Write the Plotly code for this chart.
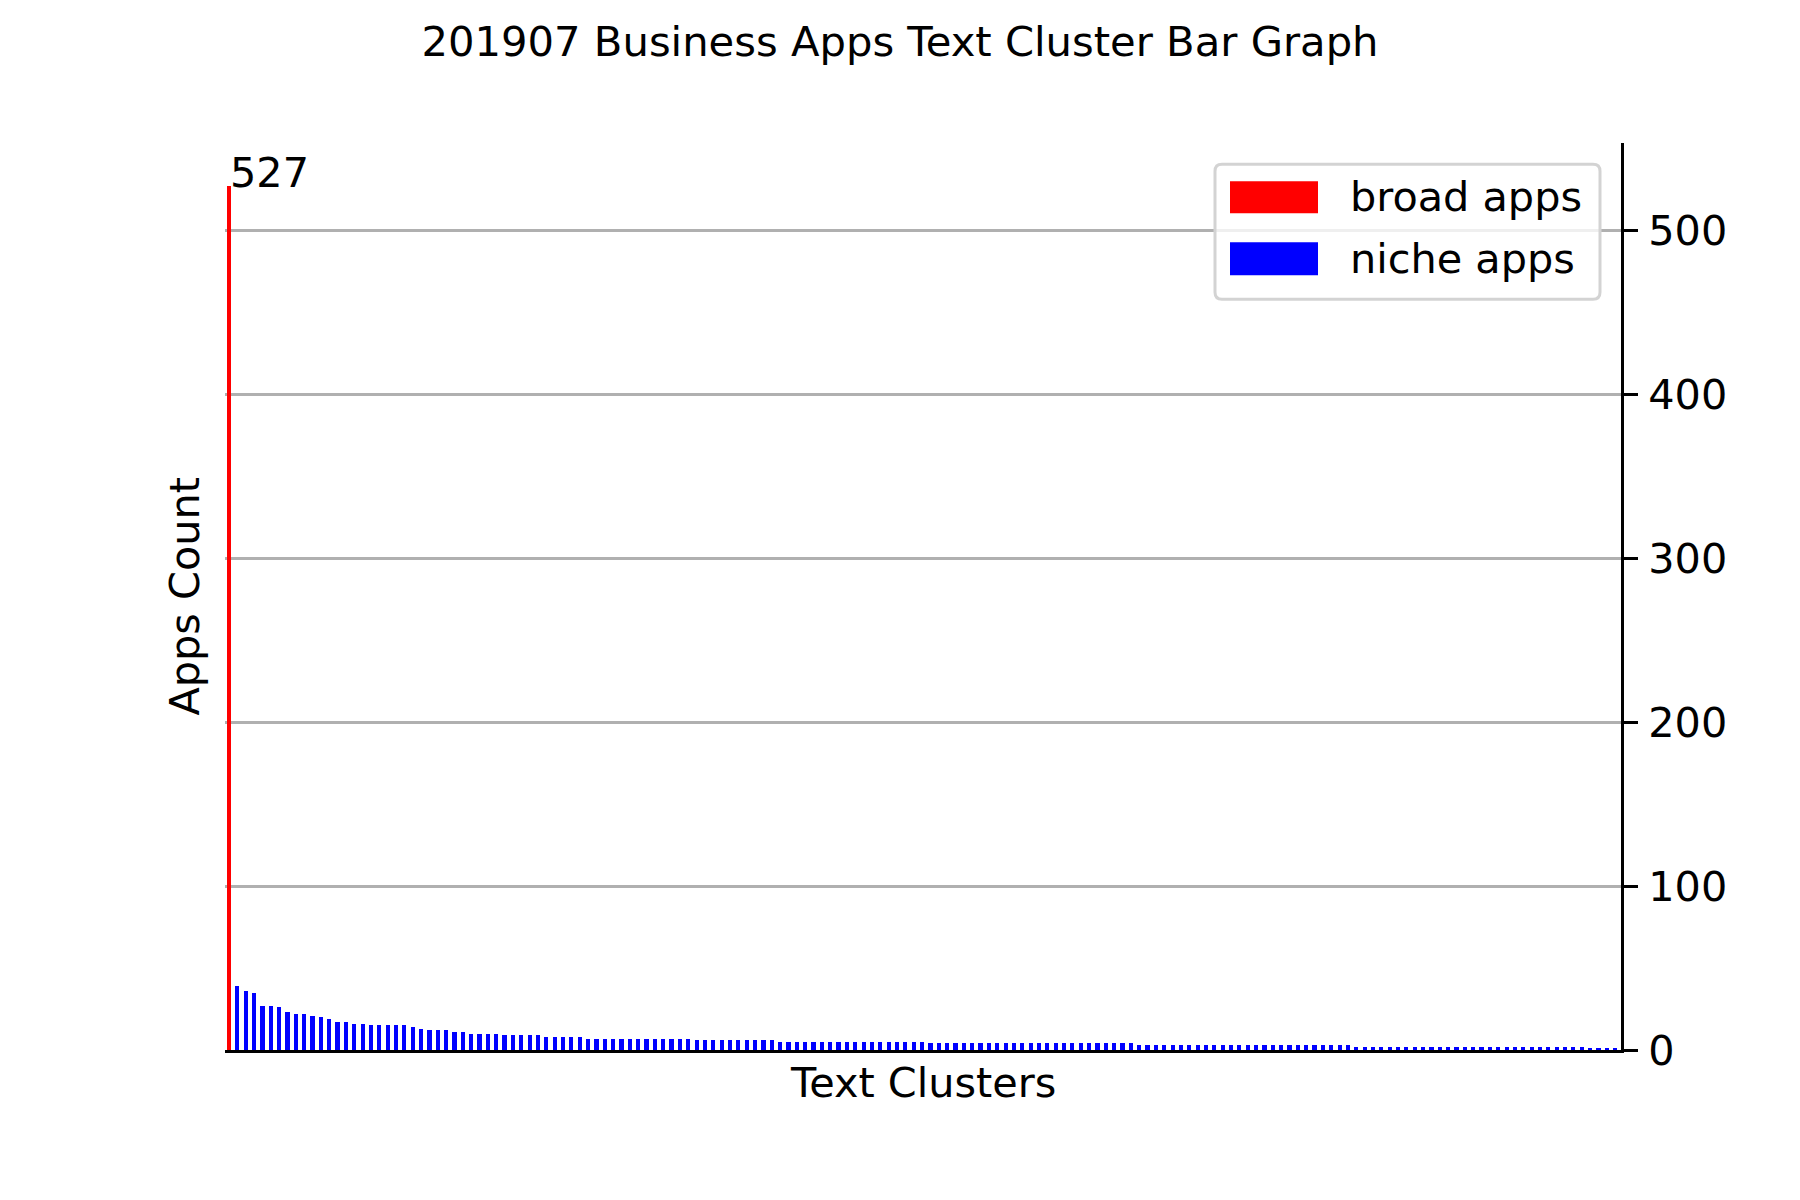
import plotly.graph_objects as go

# ---------------- data ----------------
broad_cluster = [0]
broad_counts = [527]

niche_counts = [
    39, 36, 35, 27, 27, 26, 23, 22, 22, 21, 20, 19, 17, 17, 16, 16,
    15, 15, 15, 15, 15, 14, 13, 12, 12, 12, 11, 11,
    10, 10, 10, 10,
    9, 9, 9, 9, 9,
    8, 8, 8, 8, 8,
    7, 7, 7, 7, 7, 7, 7, 7, 7, 7, 7, 7, 7,
    6, 6, 6, 6, 6, 6, 6, 6, 6, 6,
    5, 5, 5, 5, 5, 5, 5, 5, 5, 5, 5, 5, 5, 5, 5, 5, 5, 5,
    4, 4, 4, 4, 4, 4, 4, 4, 4, 4, 4, 4, 4, 4, 4, 4, 4, 4, 4, 4, 4, 4, 4, 4, 4,
    3, 3, 3, 3, 3, 3, 3, 3, 3, 3, 3, 3, 3, 3, 3, 3, 3, 3, 3, 3, 3, 3, 3, 3, 3, 3,
    2, 2, 2, 2, 2, 2, 2, 2, 2, 2, 2, 2, 2, 2, 2, 2, 2, 2, 2, 2, 2, 2, 2, 2, 2, 2, 2, 2,
    1, 1, 1, 1,
]
niche_clusters = list(range(1, 1 + len(niche_counts)))

y_ticks = [0, 100, 200, 300, 400, 500]
legend_labels = ["broad apps", "niche apps"]
legend_colors = ["#ff0000", "#0000ff"]

title_text = "201907 Business Apps Text Cluster Bar Graph"
x_title = "Text Clusters"
y_title = "Apps Count"

# ---------------- layout geometry (page pixels) ----------------
W, H = 1800, 1200
OFF = 8  # default body margin of the page
PL, PR, PT, PB = 225, 1621, 142.7, 1050.5
FONT = "DejaVu Sans"
FS = 41.4
FS_TITLE = 41.7


def px(X):
    return (X - PL) / (PR - PL)


def py(Y):
    return (PB - Y) / (PB - PT)


n_total = 1 + len(niche_counts)
ymax = max(broad_counts) * 1.05

fig = go.Figure()
fig.add_trace(go.Bar(x=broad_cluster, y=broad_counts, width=0.5,
                     marker=dict(color=legend_colors[0], line=dict(width=0)),
                     name=legend_labels[0], showlegend=False))
fig.add_trace(go.Bar(x=niche_clusters, y=niche_counts, width=0.5,
                     marker=dict(color=legend_colors[1], line=dict(width=0)),
                     name=legend_labels[1], showlegend=False))

annotations = [
    dict(x=0, y=broad_counts[0], xref="x", yref="y", text=str(broad_counts[0]),
         showarrow=False, xanchor="left", yanchor="bottom", yshift=-13, xshift=-1,
         font=dict(family=FONT, size=FS, color="black")),
    dict(x=px(184), y=0.5, xref="paper", yref="paper", text=y_title, textangle=-90,
         showarrow=False, xanchor="center", yanchor="middle",
         font=dict(family=FONT, size=FS, color="black")),
    dict(x=0.5, y=py(1084), xref="paper", yref="paper", text=x_title,
         showarrow=False, xanchor="center", yanchor="middle",
         font=dict(family=FONT, size=FS, color="black")),
]

shapes = []
# legend box with rounded corners
bx0, bx1, by0, by1, r = 1215, 1600, 164, 299, 7
X0, X1, Y0, Y1 = px(bx0), px(bx1), py(by0), py(by1)
rx = r / (PR - PL)
ry = r / (PB - PT)
path = (f"M{X0 + rx},{Y0} L{X1 - rx},{Y0} Q{X1},{Y0} {X1},{Y0 - ry} "
        f"L{X1},{Y1 + ry} Q{X1},{Y1} {X1 - rx},{Y1} "
        f"L{X0 + rx},{Y1} Q{X0},{Y1} {X0},{Y1 + ry} "
        f"L{X0},{Y0 - ry} Q{X0},{Y0} {X0 + rx},{Y0} Z")
shapes.append(dict(type="path", path=path, xref="paper", yref="paper",
                   fillcolor="rgba(255,255,255,0.8)",
                   line=dict(color="#d3d3d3", width=3), layer="above"))
patch_rows = [(181, 213), (242, 275)]
for (ya, yb), col, lab in zip(patch_rows, legend_colors, legend_labels):
    shapes.append(dict(type="rect", xref="paper", yref="paper",
                       x0=px(1230), x1=px(1318), y0=py(yb), y1=py(ya),
                       fillcolor=col, line=dict(width=0), layer="above"))
    annotations.append(dict(x=px(1348), y=py((ya + yb) / 2), xref="paper", yref="paper",
                            text=lab, showarrow=False, xanchor="left", yanchor="middle",
                            font=dict(family=FONT, size=FS, color="black")))

fig.update_layout(
    width=W, height=H,
    paper_bgcolor="white", plot_bgcolor="white",
    margin=dict(l=PL - OFF, r=W - (PR - OFF), t=PT - OFF, b=H - (PB - OFF),
                autoexpand=False),
    font=dict(family=FONT, size=FS, color="black"),
    title=dict(text=title_text, x=(900 - OFF) / W, xanchor="center", xref="container",
               y=1 - (41 - OFF) / H, yanchor="middle", yref="container",
               font=dict(family=FONT, size=FS_TITLE, color="black")),
    showlegend=False,
    bargap=0,
    xaxis=dict(range=[-0.48, n_total - 0.3], showticklabels=False, ticks="",
               showgrid=False, zeroline=False, showline=True, linecolor="black",
               linewidth=3, mirror=False),
    yaxis=dict(range=[0, ymax], side="right", tickvals=y_ticks,
               ticktext=[str(v) for v in y_ticks], ticks="outside", ticklen=14,
               tickwidth=3, tickcolor="black", showline=True, linecolor="black",
               linewidth=3, showgrid=True, gridcolor="#b0b0b0", gridwidth=3,
               zeroline=False, ticklabelstandoff=2,
               tickfont=dict(family=FONT, size=FS, color="black")),
    annotations=annotations,
    shapes=shapes,
)

fig.write_html("out.html")
